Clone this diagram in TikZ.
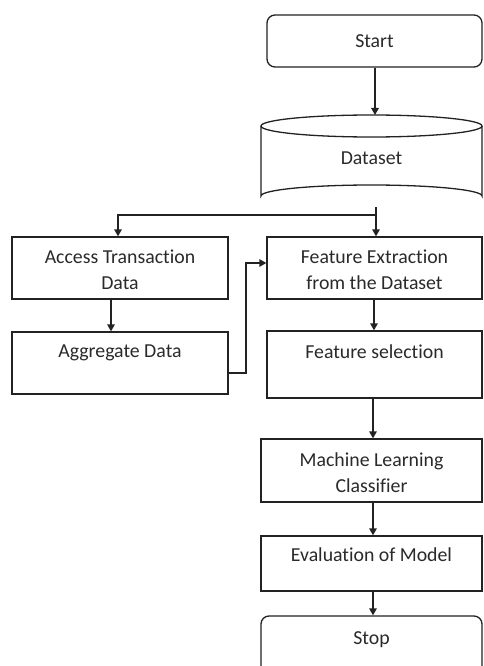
\documentclass[tikz,border=0pt]{standalone}
\usepackage{fontspec}
\setmainfont{Carlito}[Ligatures=NoCommon]
\usetikzlibrary{arrows.meta}
\definecolor{ln}{HTML}{222222}
\definecolor{tx}{HTML}{2a2a2a}
\begin{document}
\begin{tikzpicture}[x=1pt,y=-1pt,
  every node/.style={font=\fontsize{19.8}{26}\selectfont, text=tx},
  box/.style={draw=ln, line width=1.3pt, minimum width=#1, inner sep=0pt, fill=white},
  box/.default=215pt,
  rbox/.style={box=#1, rounded corners=8pt},
  rbox/.default=221pt,
  lbl/.style={align=center, inner sep=0pt},
  arr/.style={draw=ln, line width=1.3pt, -{Triangle[width=7.5pt,length=7pt]}},
  ln/.style={draw=ln, line width=1.3pt}
]
\useasboundingbox (0,0) rectangle (483,666);
\fill[white] (0,0) rectangle (483,666);

% Start
\node[rbox=215pt, minimum height=52pt] (start) at (374.5,41) {};
\node[lbl] (startT) at (start.center) {Start};

% Dataset cylinder
\node[draw=none, minimum width=221pt, minimum height=92pt, inner sep=0pt] (data) at (371.5,161) {};
\draw[ln, fill=white] (261,126) -- (261,196) arc[start angle=180, end angle=360, x radius=110.5, y radius=11] -- (482,126);
\draw[ln] (371.5,126) ellipse[x radius=110.5, y radius=11];
\node[lbl] (dataT) at (371.5,158) {Dataset};

% Left column
\node[box=216pt, minimum height=62pt] (acc) at (120,268) {};
\node[lbl] (accT) at (120,270) {Access Transaction\\Data};
\node[box=216pt, minimum height=62pt] (agg) at (120,363) {};
\node[lbl] (aggT) at (120,353) {Aggregate Data};

% Right column
\node[box=215pt, minimum height=62pt] (fe) at (374.5,268) {};
\node[lbl] (feT) at (374.5,270) {Feature Extraction\\from the Dataset};
\node[box=215pt, minimum height=67pt] (fs) at (374.5,364.5) {};
\node[lbl] (fsT) at (374.5,352) {Feature selection};
\node[box=221pt, minimum height=63pt] (ml) at (371.5,470.5) {};
\node[lbl] (mlT) at (371.5,473) {Machine Learning\\Classifier};
\node[box=221pt, minimum height=55pt] (ev) at (371.5,563.5) {};
\node[lbl] (evT) at (371.5,555) {Evaluation of Model};
\node[rbox=221pt, minimum height=74pt] (stop) at (371.5,653) {};
\node[lbl] (stopT) at (371.5,640) {Stop};

% Connectors
\coordinate (j) at (376,215);
\coordinate (jl) at (118,215);
\coordinate (b1) at (246,373);
\coordinate (b2) at (246,263);
\draw[arr] (start.south -| 375,0) -- (375,115);
\draw[ln] (376,207) -- (j);
\draw[arr] (j) -- (j |- fe.north);
\draw[arr] (j) -- (jl) -- (jl |- acc.north);
\draw[arr] (acc.south -| 111,0) -- (111,0 |- agg.north);
\draw[arr] (agg.east |- b1) -- (b1) -- (b2) -- (fe.west |- b2);
\draw[arr] (fe.south -| 374,0) -- (374,0 |- fs.north);
\draw[arr] (fs.south -| 373,0) -- (373,0 |- ml.north);
\draw[arr] (ml.south -| 373,0) -- (373,0 |- ev.north);
\draw[arr] (ev.south -| 373,0) -- (373,0 |- stop.north);
\end{tikzpicture}
\end{document}
